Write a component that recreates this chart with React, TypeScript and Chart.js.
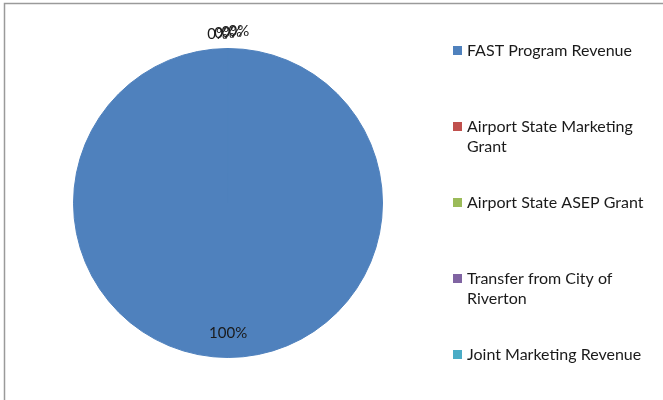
import React, { useEffect, useRef } from "react";
import { Chart, registerables } from "chart.js";

Chart.register(...registerables);

const categories = [
  "FAST Program Revenue",
  "Airport State Marketing Grant",
  "Airport State ASEP Grant",
  "Transfer from City of Riverton",
  "Joint Marketing Revenue",
];
const values = [250000, 30, 25, 35, 20];
const colors = ["#4F81BD", "#C0504D", "#9BBB59", "#8064A2", "#4BACC6"];

const FONT = "Lato, 'Open Sans', sans-serif";

const framePlugin = {
  id: "frame",
  beforeDraw(chart: any) {
    const ctx = chart.ctx;
    ctx.save();
    ctx.fillStyle = "#ffffff";
    ctx.fillRect(0, 0, chart.width, chart.height);
    ctx.strokeStyle = "#9a9a9a";
    ctx.lineWidth = 1.5;
    ctx.strokeRect(4.5, 3.5, chart.width + 10, chart.height + 10);
    ctx.restore();
  },
};

const labelPlugin = {
  id: "pieLabels",
  afterDatasetsDraw(chart: any) {
    const ctx = chart.ctx;
    const meta = chart.getDatasetMeta(0);
    const data = chart.data.datasets[0].data as number[];
    const total = data.reduce((a, b) => a + b, 0);
    ctx.save();
    ctx.font = `15px ${FONT}`;
    ctx.fillStyle = "#1a1a1a";
    ctx.textAlign = "center";
    ctx.textBaseline = "middle";
    let k = 0;
    meta.data.forEach((arc: any, i: number) => {
      const p = arc.getProps(["x", "y", "startAngle", "endAngle", "outerRadius"], true);
      const mid = (p.startAngle + p.endAngle) / 2;
      const pct = Math.round((data[i] / total) * 100);
      const text = pct + "%";
      if (pct >= 50) {
        const r = p.outerRadius * 0.84;
        ctx.fillText(text, p.x + Math.cos(mid) * r, p.y + Math.sin(mid) * r);
      } else {
        const r = p.outerRadius + 14;
        const dx = -10 + 7 * k;
        const dy = -1.2 * k;
        k++;
        ctx.fillText(text, p.x + Math.cos(mid) * r + dx, p.y + Math.sin(mid) * r + dy);
      }
    });
    ctx.restore();
  },
};

const legendPlugin = {
  id: "sideLegend",
  afterDraw(chart: any) {
    const ctx = chart.ctx;
    ctx.save();
    ctx.font = `16px ${FONT}`;
    ctx.textBaseline = "middle";
    ctx.textAlign = "left";
    const boxX = 453;
    const textX = 467;
    const maxW = chart.width - textX - 6;
    categories.forEach((label, i) => {
      const y0 = 51 + 76 * i;
      const words = label.split(" ");
      const lines: string[] = [];
      let cur = "";
      words.forEach((w) => {
        const t = cur ? cur + " " + w : w;
        if (ctx.measureText(t).width > maxW && cur) {
          lines.push(cur);
          cur = w;
        } else cur = t;
      });
      if (cur) lines.push(cur);
      ctx.fillStyle = colors[i];
      ctx.fillRect(boxX, y0 - 5, 9, 9);
      ctx.fillStyle = "#1a1a1a";
      lines.forEach((ln, j) => ctx.fillText(ln, textX, y0 + j * 20));
    });
    ctx.restore();
  },
};

export default function App() {
  const ref = useRef<HTMLCanvasElement>(null);
  useEffect(() => {
    document.body.style.margin = "0";
    const chart = new Chart(ref.current!, {
      type: "pie",
      data: {
        labels: categories,
        datasets: [
          {
            data: values,
            backgroundColor: colors,
            borderWidth: 1,
            borderColor: colors[0],
          },
        ],
      },
      options: {
        responsive: false,
        animation: false,
        layout: { padding: { left: 73, top: 48, right: 280, bottom: 42 } },
        plugins: {
          legend: { display: false },
          tooltip: { enabled: false },
        },
      },
      plugins: [framePlugin, labelPlugin, legendPlugin],
    });
    return () => chart.destroy();
  }, []);
  return (
    <div style={{ width: 663, height: 400 }}>
      <canvas ref={ref} width={663} height={400} />
    </div>
  );
}
